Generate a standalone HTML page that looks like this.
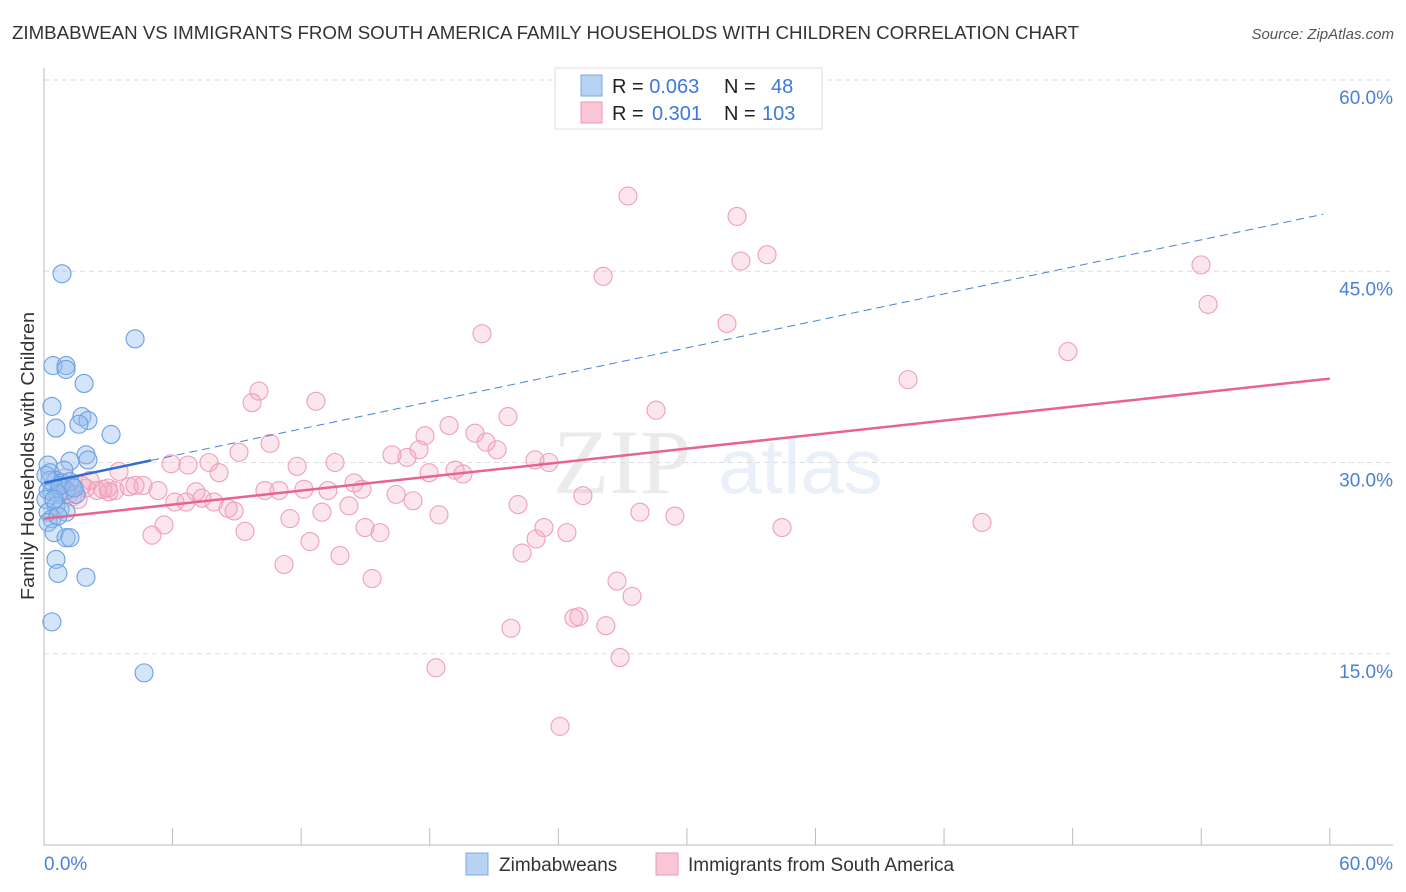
<!DOCTYPE html>
<html><head><meta charset="utf-8"><style>
body{margin:0;background:#fff;font-family:"Liberation Sans",sans-serif}
svg{display:block}
</style></head><body>
<svg id="c" width="1406" height="892" font-family="Liberation Sans, sans-serif">
<text x="12" y="39" font-size="18.5" fill="#333" textLength="1067" lengthAdjust="spacingAndGlyphs">ZIMBABWEAN VS IMMIGRANTS FROM SOUTH AMERICA FAMILY HOUSEHOLDS WITH CHILDREN CORRELATION CHART</text>
<text x="1394" y="39" font-size="15" fill="#555" font-style="italic" text-anchor="end">Source: ZipAtlas.com</text>
<text transform="translate(34,456) rotate(-90)" font-size="18" fill="#333" text-anchor="middle" textLength="288" lengthAdjust="spacingAndGlyphs">Family Households with Children</text>
<g opacity="0.11">
<text x="553" y="493" font-size="92" font-family="Liberation Serif, serif" fill="#555">ZIP</text>
<text x="718" y="493" font-size="78" fill="#4a80d6">atlas</text>
</g>
<g id="grid"></g><g id="axes"></g><g id="marks"></g><g id="trend"></g>
<g>
<rect x="555" y="68" width="267" height="61" fill="#fff" stroke="#ddd"/>
<rect x="581" y="75" width="21" height="21" fill="#b8d2f4" stroke="#7aa8e6"/>
<rect x="581" y="102" width="21" height="21" fill="#f9c6d6" stroke="#ec9ab5"/>
<text x="612" y="93" font-size="20" fill="#222">R = <tspan fill="#3d78d6">0.063</tspan><tspan x="724">N = </tspan><tspan x="771" fill="#3d78d6">48</tspan></text>
<text x="612" y="120" font-size="20" fill="#222">R = <tspan x="652" fill="#3d78d6">0.301</tspan><tspan x="724">N = </tspan><tspan x="762" fill="#3d78d6">103</tspan></text>
</g>
<g>
<rect x="466" y="853" width="22" height="22" fill="#b8d2f4" stroke="#7aa8e6"/>
<text x="499" y="871" font-size="19" fill="#333">Zimbabweans</text>
<rect x="656" y="853" width="22" height="22" fill="#f9c6d6" stroke="#ec9ab5"/>
<text x="688" y="871" font-size="19" fill="#333">Immigrants from South America</text>
</g>
</svg>
<script>
const yTicks=[15,30,45,60];
const xTickVals=[6,12,18,24,30,36,42,48,54,60];
const blueX=[0.84,4.25,0.42,1.03,1.03,1.87,0.37,1.77,2.05,1.63,0.56,3.13,1.96,2.05,1.21,0.19,0.93,0.28,0.56,0.84,1.31,0.19,0.37,0.65,1.03,1.49,0.09,0.56,0.75,0.19,1.03,0.37,0.19,0.65,0.47,1.03,1.21,0.56,0.65,1.96,0.37,4.67,0.28,0.75,0.47,1.21,0.09,1.4];
const blueY=[44.8,39.7,37.6,37.6,37.3,36.2,34.4,33.6,33.3,33.0,32.7,32.2,30.6,30.2,30.1,29.8,29.4,29.2,28.6,28.4,28.1,27.8,27.7,27.5,27.8,27.5,27.1,26.6,26.3,26.1,26.1,25.6,25.3,25.8,24.5,24.1,24.1,22.4,21.3,21.0,17.5,13.5,28.6,28.2,27.1,28.5,29.0,28.0];
const pinkX=[27.25,32.34,32.52,33.74,26.09,53.99,54.32,31.87,20.44,47.78,40.32,10.03,9.71,12.69,28.56,21.65,18.9,17.78,20.11,20.63,10.55,9.1,21.14,17.5,16.24,16.94,22.91,23.56,5.93,6.72,7.7,11.81,13.58,19.18,17.97,19.55,3.5,8.17,4.62,1.96,2.47,3.03,3.97,2.75,3.31,4.25,5.32,7.09,10.31,10.97,12.13,13.25,14.47,14.84,16.43,17.22,6.11,6.63,7.37,7.93,8.59,8.87,22.12,25.15,27.81,29.44,34.44,43.77,18.43,12.97,14.23,11.48,14.98,15.68,9.38,5.6,5.04,23.33,22.96,24.4,12.41,13.81,22.31,11.2,15.31,26.74,27.44,24.73,24.96,21.79,26.22,26.88,18.29,24.08,1.59,1.31,0.98,2.15,0.75,1.77,2.99,1.21];
const pinkY=[50.9,49.3,45.8,46.3,44.6,45.5,42.4,40.9,40.1,38.7,36.5,35.6,34.7,34.8,34.1,33.6,32.9,32.1,32.3,31.6,31.5,30.8,31.0,31.0,30.6,30.4,30.2,30.0,29.9,29.8,30.0,29.7,30.0,29.4,29.2,29.1,29.3,29.2,28.2,28.0,27.8,27.7,28.1,27.9,27.8,28.2,27.8,27.7,27.8,27.8,27.9,27.8,28.4,27.9,27.5,27.0,26.9,26.9,27.2,26.9,26.4,26.2,26.7,27.4,26.1,25.8,24.9,25.3,25.9,26.1,26.6,25.6,24.9,24.5,24.6,25.1,24.3,24.9,24.0,24.5,23.8,22.7,22.9,22.0,20.9,20.7,19.5,17.8,17.9,17.0,17.2,14.7,13.9,9.3,27.1,27.3,28.8,28.6,27.8,28.2,28.0,27.6];
const blueTrend=[28.4,0.353];
const pinkTrend=[25.6,0.183];
const NS='http://www.w3.org/2000/svg';
const X=v=>44+v*21.43, Y=v=>845-v*12.75;
function mk(t,a,p){const e=document.createElementNS(NS,t);for(const k in a)e.setAttribute(k,a[k]);document.getElementById(p).appendChild(e);return e;}
yTicks.forEach(t=>{
 const g=mk('line',{x1:44,x2:1393,y1:Y(t),y2:Y(t),stroke:'#ddd','stroke-dasharray':'5,4'},'grid');
 
 
 const l=mk('text',{x:1393,y:Y(t)+24,'font-size':19,fill:'#4a80d6','text-anchor':'end'},'grid');
 l.textContent=t.toFixed(1)+'%';
 
 
});
const ax=mk('line',{x1:44,x2:44,y1:68,y2:845,stroke:'#bbb'},'axes');


const bx=mk('line',{x1:44,x2:1393,y1:845,y2:845,stroke:'#bbb'},'axes');


xTickVals.forEach(t=>{
 const e=mk('line',{x1:X(t),x2:X(t),y1:828,y2:845,stroke:'#bbb'},'axes');
 
 
});
const x0=mk('text',{x:44,y:870,'font-size':19,fill:'#4a80d6'},'axes');x0.textContent='0.0%';


const x1=mk('text',{x:1393,y:870,'font-size':19,fill:'#4a80d6','text-anchor':'end'},'axes');x1.textContent='60.0%';


pinkX.forEach((v,i)=>{
 const c=mk('circle',{cx:X(v),cy:Y(pinkY[i]),r:9,fill:'rgba(245,165,192,0.28)',stroke:'#ee9fb9','stroke-width':1.1},'marks');
 
 
});
blueX.forEach((v,i)=>{
 const c=mk('circle',{cx:X(v),cy:Y(blueY[i]),r:9,fill:'rgba(150,190,240,0.4)',stroke:'#6a9fe2','stroke-width':1.1},'marks');
 
 
});
const pt=mk('line',{x1:X(0),y1:Y(pinkTrend[0]),x2:X(60),y2:Y(pinkTrend[0]+60*pinkTrend[1]),stroke:'#e8648e','stroke-width':2.5},'trend');


const bs=mk('line',{x1:X(0),y1:Y(blueTrend[0]),x2:X(5),y2:Y(blueTrend[0]+5*blueTrend[1]),stroke:'#2f6fd0','stroke-width':2.5},'trend');


const bd=mk('line',{x1:X(5),y1:Y(blueTrend[0]+5*blueTrend[1]),x2:X(59.7),y2:Y(blueTrend[0]+59.7*blueTrend[1]),stroke:'#4a80d6','stroke-width':1,'stroke-dasharray':'8,5'},'trend');


</script>
</body></html>
